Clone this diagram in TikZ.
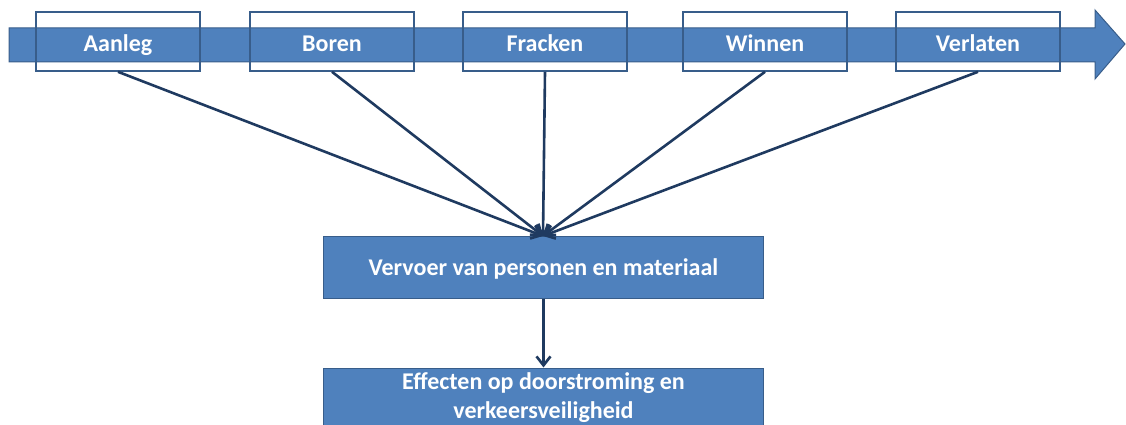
\documentclass[tikz,border=0pt]{standalone}
\usepackage{fontspec}
\setmainfont{Carlito}
\usetikzlibrary{arrows.meta}
\definecolor{boxfill}{HTML}{4F81BD}
\definecolor{boxedge}{HTML}{385D8A}
\definecolor{linecol}{HTML}{1F3A60}
\tikzset{
  phase/.style={draw=boxedge, line width=1.6pt, minimum width=164pt, minimum height=59pt, inner sep=0pt},
  phasetext/.style={text=white, anchor=base, inner sep=0pt, font=\bfseries\fontsize{24}{28}\selectfont},
  bluebox/.style={fill=boxfill, draw=boxedge, line width=1pt, minimum width=440pt, minimum height=62pt, inner sep=0pt},
  boxtext/.style={text=white, align=center, inner sep=0pt, font=\bfseries\fontsize{24}{29}\selectfont},
  conn/.style={draw=linecol, line width=2.6pt, -{Straight Barb[length=9pt,width=14pt,line width=2.6pt]}},
}
\begin{document}
\begin{tikzpicture}[x=1pt,y=-1pt]
\useasboundingbox (0,0) rectangle (1126,425);
\clip (0,0) rectangle (1126,425);
% big timeline arrow
\draw[fill=boxfill, draw=boxedge, line width=1pt]
  (9,28) -- (1095,28) -- (1095,10) -- (1125,44) -- (1095,79) -- (1095,62) -- (9,62) -- cycle;
% phase boxes
\node[phase] (aanleg)   at (118,41.5) {};
\node[phase] (boren)    at (332,41.5) {};
\node[phase] (fracken)  at (545,41.5) {};
\node[phase] (winnen)   at (765,41.5) {};
\node[phase] (verlaten) at (978,41.5) {};
\node[phasetext] (taanleg)   at (118,52) {Aanleg};
\node[phasetext] (tboren)    at (332,52) {Boren};
\node[phasetext] (tfracken)  at (545,52) {Fracken};
\node[phasetext] (twinnen)   at (765,52) {Winnen};
\node[phasetext] (tverlaten) at (978,52) {Verlaten};
% transport and effect boxes
\node[bluebox] (vervoer) at (543.5,267.5) {};
\node[boxtext, anchor=base] (tvervoer) at (543.5,275.5) {Vervoer van personen en materiaal};
\node[bluebox] (effect) at (543.5,399) {};
\node[boxtext] (teffect) at (543.5,398) {Effecten op doorstroming en\\verkeersveiligheid};
\coordinate (hub) at (543,236);
\draw[conn] (aanleg.south) -- (hub);
\draw[conn] (boren.south) -- (hub);
\draw[conn] (fracken.south) -- (hub);
\draw[conn] (winnen.south) -- (hub);
\draw[conn] (verlaten.south) -- (hub);
\draw[conn] (vervoer.south) -- (effect.north);
\end{tikzpicture}
\end{document}
